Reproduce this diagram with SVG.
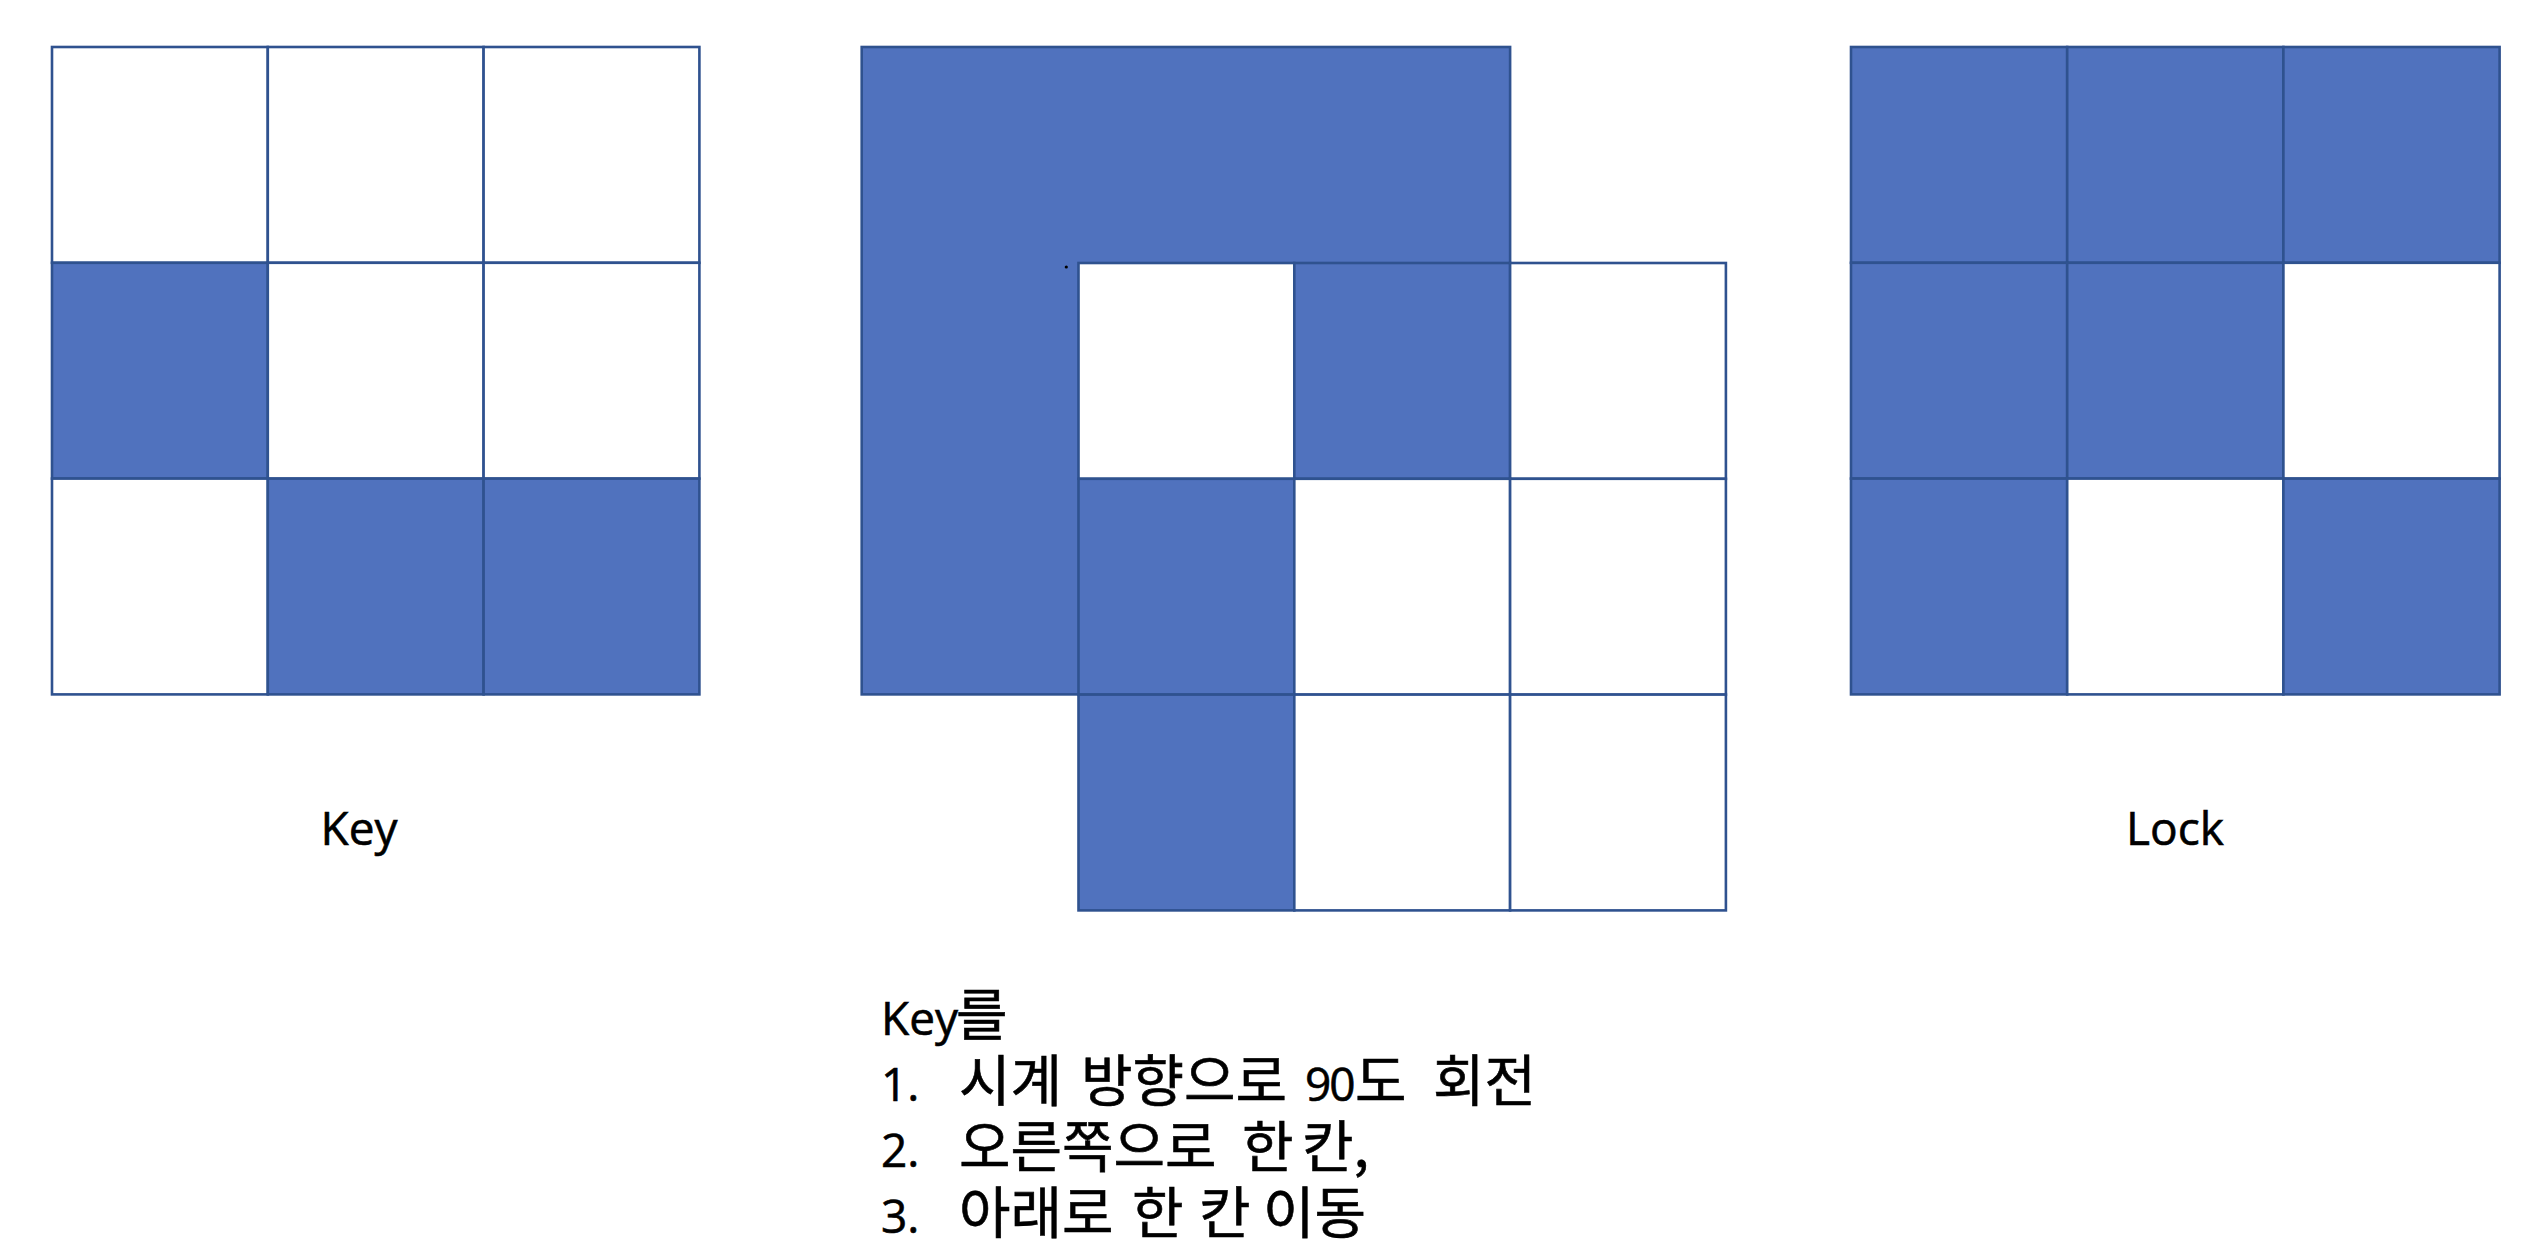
<svg xmlns="http://www.w3.org/2000/svg" width="2538" height="1260" viewBox="0 0 2538 1260">
<style>
.c{stroke:#2F528F;stroke-width:2.6;}
.b{fill:#5072BE;}
.w{fill:#FFFFFF;}
.lat{font-family:"Open Sans","Noto Sans","Liberation Sans",sans-serif;font-size:46px;fill:#000000;stroke:#000000;stroke-width:0.6;}
.num{font-size:46px;letter-spacing:-2px;}
.kr{font-family:"Noto Sans CJK KR","Noto Sans",sans-serif;font-size:56px;fill:#000000;stroke:#000000;stroke-width:0.6;}
</style>
<rect x="0" y="0" width="2538" height="1260" fill="#FFFFFF"/>
<g id="key-grid">
<rect class="c w" x="52" y="47" width="215.8" height="215.8"/>
<rect class="c w" x="267.8" y="47" width="215.8" height="215.8"/>
<rect class="c w" x="483.6" y="47" width="215.8" height="215.8"/>
<rect class="c b" x="52" y="262.8" width="215.8" height="215.8"/>
<rect class="c w" x="267.8" y="262.8" width="215.8" height="215.8"/>
<rect class="c w" x="483.6" y="262.8" width="215.8" height="215.8"/>
<rect class="c w" x="52" y="478.6" width="215.8" height="215.8"/>
<rect class="c b" x="267.8" y="478.6" width="215.8" height="215.8"/>
<rect class="c b" x="483.6" y="478.6" width="215.8" height="215.8"/>
</g>
<g id="overlay">
<rect class="c b" x="861.7" y="47" width="648.4" height="647.4"/>
<circle cx="1066.3" cy="267" r="1.6" fill="#000000"/>
<rect class="c w" x="1078.5" y="263" width="215.8" height="215.8"/>
<rect class="c b" x="1294.3" y="263" width="215.8" height="215.8"/>
<rect class="c w" x="1510.1" y="263" width="215.8" height="215.8"/>
<rect class="c b" x="1078.5" y="478.8" width="215.8" height="215.8"/>
<rect class="c w" x="1294.3" y="478.8" width="215.8" height="215.8"/>
<rect class="c w" x="1510.1" y="478.8" width="215.8" height="215.8"/>
<rect class="c b" x="1078.5" y="694.6" width="215.8" height="215.8"/>
<rect class="c w" x="1294.3" y="694.6" width="215.8" height="215.8"/>
<rect class="c w" x="1510.1" y="694.6" width="215.8" height="215.8"/>
</g>
<g id="lock-grid">
<rect class="c b" x="1851" y="47" width="216.2" height="215.8"/>
<rect class="c b" x="2067.2" y="47" width="216.2" height="215.8"/>
<rect class="c b" x="2283.4" y="47" width="216.2" height="215.8"/>
<rect class="c b" x="1851" y="262.8" width="216.2" height="215.8"/>
<rect class="c b" x="2067.2" y="262.8" width="216.2" height="215.8"/>
<rect class="c w" x="2283.4" y="262.8" width="216.2" height="215.8"/>
<rect class="c b" x="1851" y="478.6" width="216.2" height="215.8"/>
<rect class="c w" x="2067.2" y="478.6" width="216.2" height="215.8"/>
<rect class="c b" x="2283.4" y="478.6" width="216.2" height="215.8"/>
</g>
<g id="key-label">
<text class="lat" x="359" y="845" text-anchor="middle">Key</text>
</g>
<g id="lock-label">
<text class="lat" x="2175" y="845" text-anchor="middle">Lock</text>
</g>
<g id="instructions">
<text class="lat" x="881" y="1035">Key<tspan class="kr" x="956" y="1035">를</tspan></text>
<text class="lat" y="1101"><tspan x="881">1.</tspan><tspan class="kr" x="959" y="1101">시계</tspan><tspan class="kr" x="1081" y="1101">방향으로</tspan><tspan class="num" x="1305" y="1101">90</tspan><tspan class="kr" x="1355" y="1101">도</tspan><tspan class="kr" x="1433" y="1101">회전</tspan></text>
<text class="lat" y="1167"><tspan x="881">2.</tspan><tspan class="kr" x="959" y="1167">오른쪽으로</tspan><tspan class="kr" x="1242" y="1167">한</tspan><tspan class="kr" x="1302" y="1167">칸,</tspan></text>
<text class="lat" y="1233"><tspan x="881">3.</tspan><tspan class="kr" x="959" y="1233">아래로</tspan><tspan class="kr" x="1132" y="1233">한</tspan><tspan class="kr" x="1199" y="1233">칸</tspan><tspan class="kr" x="1263" y="1233">이동</tspan></text>
</g>
</svg>
